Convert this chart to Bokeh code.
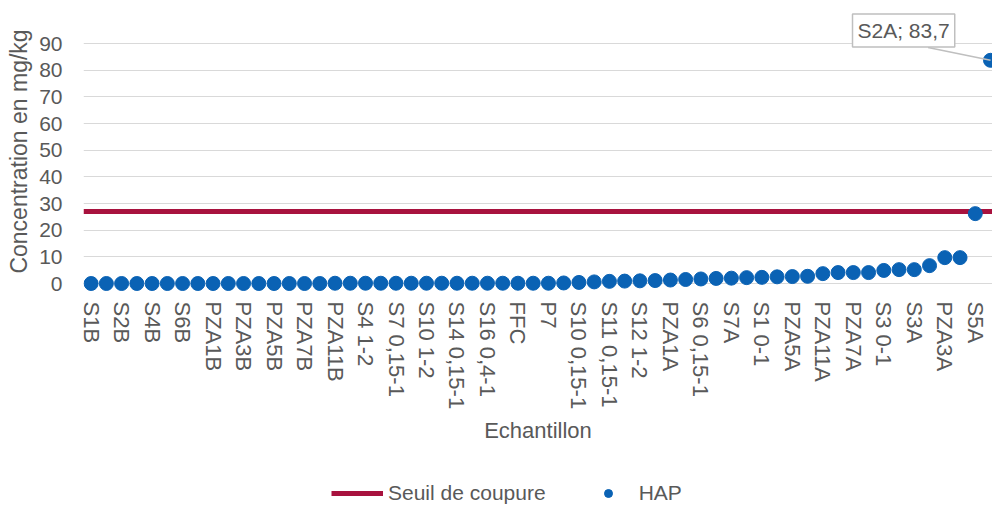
from bokeh.plotting import figure
from bokeh.layouts import column
from bokeh.models import FixedTicker, Range1d, Legend, LegendItem, Label, ColumnDataSource
from bokeh.embed import file_html
from bokeh.resources import INLINE

# ---- data ----
tick_labels = ["S1B", "S2B", "S4B", "S6B", "PZA1B", "PZA3B", "PZA5B", "PZA7B", "PZA11B",
               "S4 1-2", "S7 0,15-1", "S10 1-2", "S14 0,15-1", "S16 0,4-1", "FFC", "P7",
               "S10 0,15-1", "S11 0,15-1", "S12 1-2", "PZA1A", "S6 0,15-1", "S7A", "S1 0-1",
               "PZA5A", "PZA11A", "PZA7A", "S3 0-1", "S3A", "PZA3A", "S5A"]
hap_values = [0.0, 0.0, 0.0, 0.0, 0.0, 0.0, 0.0, 0.0, 0.0, 0.0,
              0.0, 0.0, 0.0, 0.0, 0.0, 0.0, 0.1, 0.1, 0.1, 0.1,
              0.1, 0.1, 0.1, 0.1, 0.1, 0.1, 0.1, 0.1, 0.1, 0.1,
              0.1, 0.2, 0.4, 0.6, 0.8, 0.9, 1.0, 1.1, 1.3, 1.5,
              1.7, 1.9, 2.0, 2.2, 2.3, 2.5, 2.6, 2.7, 3.7, 4.1,
              4.1, 4.1, 4.9, 5.2, 5.2, 6.7, 9.7, 9.7, 26.2, 83.7]
seuil = 27
callout_text = "S2A; 83,7"
y_ticks = [0, 10, 20, 30, 40, 50, 60, 70, 80, 90]

# ---- styles ----
FONT = "Liberation Sans"
TXT = "#595959"
BLUE = "#0A62B4"
RED = "#A8123E"

n = len(hap_values)
xs = list(range(n))

p = figure(width=992, height=455, output_backend="svg", toolbar_location=None,
           x_range=Range1d(-0.5, n - 1 + 0.13), y_range=Range1d(-3, 102),
           min_border_left=83, min_border_right=0, min_border_top=11, min_border_bottom=164)
p.outline_line_color = None
p.background_fill_color = "white"
p.border_fill_color = "white"

# threshold line
l_seuil = p.line([-0.5, n - 0.5], [seuil, seuil], line_color=RED, line_width=5)
# HAP points
src = ColumnDataSource(dict(x=xs, y=hap_values))
r_hap = p.scatter("x", "y", source=src, size=14, fill_color=BLUE, line_color=BLUE)

# callout for the last point
cx, cy = xs[-1], hap_values[-1]
p.segment(x0=[cx - 4.1], y0=[cy + 4.8], x1=[cx], y1=[cy], line_color="#BFBFBF", line_width=1.5)
p.add_layout(Label(x=cx - 5.7, y=cy + 11.2, text=callout_text, text_align="center",
                   text_baseline="middle", text_font=FONT, text_font_size="21px",
                   text_color=TXT, border_line_color="#BFBFBF", border_line_width=1.5,
                   background_fill_color="white", padding=5))

# axes
p.xaxis.ticker = FixedTicker(ticks=list(range(0, n, 2))[:len(tick_labels)])
p.xaxis.major_label_overrides = {2 * i: lab for i, lab in enumerate(tick_labels)}
p.xaxis.major_label_orientation = "vertical"
p.yaxis.ticker = FixedTicker(ticks=y_ticks)
for ax in (p.xaxis, p.yaxis):
    ax.axis_line_color = None
    ax.major_tick_line_color = None
    ax.minor_tick_line_color = None
    ax.major_label_text_font = FONT
    ax.major_label_text_color = TXT
    ax.axis_label_text_font = FONT
    ax.axis_label_text_color = TXT
    ax.axis_label_text_font_style = "normal"
p.xaxis.major_label_text_font_size = "22px"
p.yaxis.major_label_text_font_size = "21px"
p.xaxis.major_label_standoff = 4
p.yaxis.major_label_standoff = 15
p.xaxis.axis_label = "Echantillon"
p.yaxis.axis_label = "Concentration en mg/kg"
p.xaxis.axis_label_text_font_size = "22px"
p.yaxis.axis_label_text_font_size = "23px"
p.xaxis.axis_label_standoff = 6
p.yaxis.axis_label_standoff = 4

p.xgrid.grid_line_color = None
p.ygrid.grid_line_color = "#D9D9D9"
p.ygrid.grid_line_width = 1

# legend strip under the chart (proxy renderers kept outside the visible range)
lg = figure(width=992, height=50, output_backend="svg", toolbar_location=None,
            x_range=Range1d(0, 1), y_range=Range1d(0, 1),
            min_border_left=0, min_border_right=0, min_border_top=0, min_border_bottom=0)
lg.axis.visible = False
lg.grid.visible = False
lg.outline_line_color = None
lg_line = lg.line([-10, -9], [-10, -10], line_color=RED, line_width=5)
lg_dot = lg.scatter([-10], [-10], size=11, fill_color=BLUE, line_color=BLUE)
legend = Legend(items=[LegendItem(label="Seuil de coupure", renderers=[lg_line]),
                       LegendItem(label="HAP", renderers=[lg_dot])],
                orientation="horizontal", location=(248, 0),
                label_text_font=FONT, label_text_font_size="21px", label_text_color=TXT,
                glyph_width=52, glyph_height=20, label_standoff=5, spacing=36,
                border_line_color=None, background_fill_alpha=0, margin=0, padding=2)
lg.add_layout(legend, "center")

open("out.html", "w").write(file_html(column(p, lg, spacing=0), INLINE))
